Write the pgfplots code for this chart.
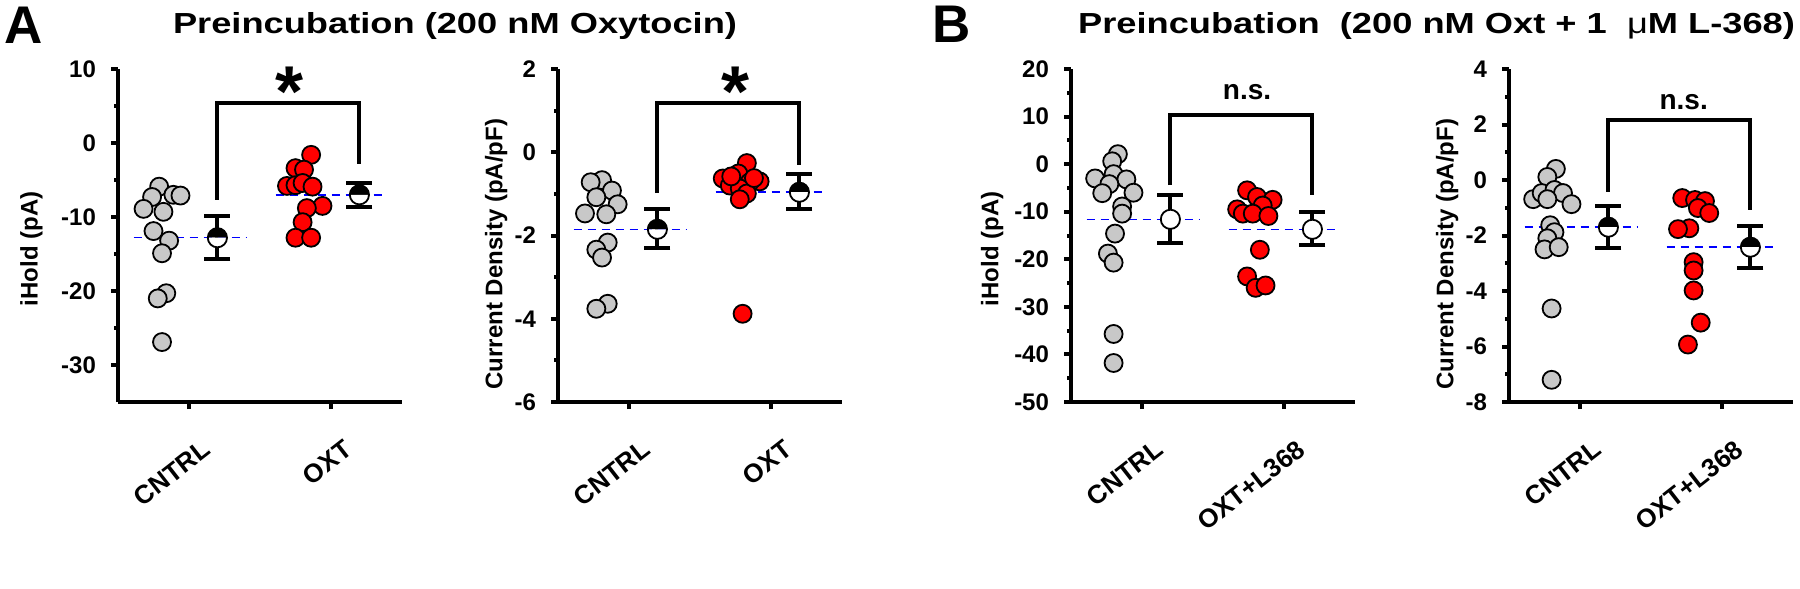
\documentclass[border=0pt]{standalone}
\usepackage{fontspec}
\setmainfont{Liberation Sans}
\usepackage{pgfplots}
\pgfplotsset{compat=1.18}
\usetikzlibrary{plotmarks}
\definecolor{ptgray}{RGB}{200,200,200}
\definecolor{ptred}{RGB}{255,0,0}
\definecolor{meanblue}{RGB}{0,0,255}
\newcommand{\lab}[1]{\fontsize{12}{14}\selectfont\bfseries #1}

\pgfplotsset{
  panel/.style={scale only axis, width=142pt, height=166.5pt,
    xmin=0.5, xmax=2.5, xtick={1,2}, clip=false,
    axis x line*=bottom, axis y line*=left,
    axis line style={-, line width=2pt},
    tick style={line width=2pt, black}, tick align=outside,
    major tick length=3.5pt, minor tick length=1.8pt, minor y tick num=1,
    /pgf/number format/assume math mode=true,
    yticklabel style={font=\fontsize{12}{14}\selectfont\bfseries, xshift=-4pt},
    xticklabel style={font=\fontsize{13}{15}\selectfont\bfseries, rotate=38, anchor=east,
      xshift=-1pt, yshift=-20pt},
    every axis y label/.style={rotate=90, anchor=center},
    anchor=south west},
  gray pts/.style={only marks, mark=*, mark size=4.5pt,
    mark options={fill=ptgray, draw=black, line width=0.9pt}},
  red pts/.style={only marks, mark=*, mark size=4.5pt,
    mark options={fill=ptred, draw=black, line width=0.9pt}},
  mean pt/.style={only marks, mark=halfcircle*, mark size=4.8pt,
    mark options={fill=black, draw=black, line width=0.9pt},
    error bars/y dir=both, error bars/y explicit,
    error bars/error bar style={line width=2pt, black},
    error bars/error mark options={rotate=90, mark size=6.5pt, line width=2pt, black}},
  open mean/.style={mean pt, mark=*, mark options={fill=white, draw=black, line width=0.9pt}},
  bracket/.style={no marks, line width=2pt, black, line join=miter},
  meanline/.style={no marks, meanblue, line width=0.75pt, dash pattern=on 4pt off 3pt},
}

\begin{document}
\begin{tikzpicture}
\useasboundingbox (0,0) rectangle (900pt,-294.5pt);

% panel A, iHold
\begin{axis}[panel, at={(59pt,-201pt)}, ymin=-35, ymax=10, ytick={-30,-20,...,10},
  xticklabels={CNTRL,OXT}, ylabel={\lab{iHold (pA)}},
  ylabel style={at={(axis description cs:-0.305,0.46)}}]
\addplot[gray pts] coordinates {(0.79,-5.9) (0.74,-7.3) (0.89,-7.0) (0.94,-7.1) (0.68,-8.9) (0.82,-9.3)
  (0.75,-11.9) (0.86,-13.2) (0.81,-14.9) (0.84,-20.3) (0.78,-21.0) (0.81,-26.9)};
\addplot[red pts] coordinates {(1.86,-1.6) (1.75,-3.4) (1.81,-3.6) (1.69,-5.8) (1.75,-5.7) (1.80,-5.4)
  (1.87,-5.9) (1.94,-8.5) (1.83,-8.8) (1.80,-10.7) (1.75,-12.8) (1.86,-12.8)};
\addplot[mean pt] coordinates {(1.2,-12.8) += (0,2.9) -= (0,2.9) (2.2,-7.0) += (0,1.6) -= (0,1.6)};
\addplot[bracket] coordinates {(1.2,-7.7) (1.2,5.4) (2.2,5.4) (2.2,-2.8)};
\addplot[meanline] coordinates {(0.61,-12.8) (1.40,-12.8)};
\addplot[meanline] coordinates {(1.61,-7.0) (2.39,-7.0)};
\node[font=\fontsize{36}{38}\selectfont\bfseries] at (axis cs:1.71,6.9) {*};
\end{axis}

% panel A, current density
\begin{axis}[panel, at={(279pt,-201pt)}, ymin=-6, ymax=2, ytick={-6,-4,...,2},
  xticklabels={CNTRL,OXT}, ylabel={\lab{Current Density (pA/pF)}},
  ylabel style={at={(axis description cs:-0.218,0.444)}}]
\addplot[gray pts] coordinates {(0.81,-0.67) (0.73,-0.72) (0.88,-0.92) (0.77,-1.08) (0.92,-1.25) (0.69,-1.47)
  (0.84,-1.49) (0.85,-2.17) (0.77,-2.34) (0.81,-2.53) (0.85,-3.64) (0.77,-3.76)};
\addplot[red pts] coordinates {(1.83,-0.26) (1.66,-0.63) (1.77,-0.51) (1.92,-0.70) (1.85,-0.72) (1.71,-0.80)
  (1.78,-0.87) (1.83,-0.99) (1.78,-1.13) (1.80,-3.88) (1.72,-0.58) (1.88,-0.62)};
\addplot[mean pt] coordinates {(1.2,-1.85) += (0,0.48) -= (0,0.46) (2.2,-0.96) += (0,0.43) -= (0,0.41)};
\addplot[bracket] coordinates {(1.2,-0.98) (1.2,1.18) (2.2,1.18) (2.2,-0.3)};
\addplot[meanline] coordinates {(0.61,-1.85) (1.40,-1.85)};
\addplot[meanline] coordinates {(1.61,-0.96) (2.39,-0.96)};
\node[font=\fontsize{36}{38}\selectfont\bfseries] at (axis cs:1.75,1.46) {*};
\end{axis}

% panel B, iHold
\begin{axis}[panel, at={(535.5pt,-201pt)}, ymin=-50, ymax=20, ytick={-50,-40,...,20},
  xticklabels={CNTRL,OXT+L368}, ylabel={\lab{iHold (pA)}},
  ylabel style={at={(axis description cs:-0.278,0.46)}}]
\addplot[gray pts] coordinates {(0.83,2.1) (0.79,0.6) (0.67,-3.0) (0.80,-2.1) (0.89,-3.2) (0.77,-4.2)
  (0.72,-6.1) (0.94,-6.0) (0.86,-8.9) (0.86,-10.4) (0.81,-14.6) (0.76,-18.8) (0.80,-20.7)
  (0.80,-35.7) (0.80,-41.8)};
\addplot[red pts] coordinates {(1.74,-5.5) (1.81,-6.9) (1.92,-7.5) (1.85,-8.7) (1.67,-9.5) (1.71,-10.4)
  (1.78,-10.4) (1.89,-10.9) (1.83,-18.0) (1.74,-23.6) (1.80,-26.0) (1.87,-25.5)};
\addplot[open mean] coordinates {(1.2,-11.6) += (0,5.1) -= (0,4.9) (2.2,-13.7) += (0,3.6) -= (0,3.2)};
\addplot[bracket] coordinates {(1.2,-4.4) (1.2,10.4) (2.2,10.4) (2.2,-6.5)};
\addplot[meanline] coordinates {(0.61,-11.6) (1.40,-11.6)};
\addplot[meanline] coordinates {(1.61,-13.7) (2.39,-13.7)};
\node[font=\fontsize{14}{16}\selectfont\bfseries] at (axis cs:1.74,15.2) {n.s.};
\end{axis}

% panel B, current density
\begin{axis}[panel, at={(754.5pt,-201pt)}, ymin=-8, ymax=4, ytick={-8,-6,...,4},
  xticklabels={CNTRL,OXT+L368}, ylabel={\lab{Current Density (pA/pF)}},
  ylabel style={at={(axis description cs:-0.218,0.444)}}]
\addplot[gray pts] coordinates {(0.83,0.40) (0.77,0.11) (0.67,-0.69) (0.73,-0.47) (0.82,-0.36) (0.88,-0.47)
  (0.94,-0.87) (0.77,-0.69) (0.79,-1.63) (0.82,-1.88) (0.77,-2.10) (0.75,-2.50) (0.85,-2.42)
  (0.80,-4.63) (0.80,-7.20)};
\addplot[red pts] coordinates {(1.72,-0.65) (1.81,-0.72) (1.88,-0.76) (1.83,-1.01) (1.91,-1.19) (1.77,-1.74)
  (1.69,-1.77) (1.80,-2.96) (1.80,-3.26) (1.80,-3.98) (1.85,-5.14) (1.76,-5.93)};
\addplot[mean pt] coordinates {(1.2,-1.70) += (0,0.76) -= (0,0.76) (2.2,-2.42) += (0,0.76) -= (0,0.76)};
\addplot[bracket] coordinates {(1.2,-0.43) (1.2,2.17) (2.2,2.17) (2.2,-1.08)};
\addplot[meanline] coordinates {(0.61,-1.70) (1.40,-1.70)};
\addplot[meanline] coordinates {(1.61,-2.42) (2.39,-2.42)};
\node[font=\fontsize{14}{16}\selectfont\bfseries] at (axis cs:1.73,2.82) {n.s.};
\end{axis}

% panel letters and titles
\node[anchor=base, font=\fontsize{26.5}{30}\selectfont\bfseries] at (12pt,-21.5pt) {A};
\node[anchor=base, font=\fontsize{26.5}{30}\selectfont\bfseries] at (475.75pt,-21pt) {B};
\node[anchor=base, font=\fontsize{14.5}{16}\selectfont\bfseries] at (227.5pt,-16.5pt)
  {\scalebox{1.25}[1]{Preincubation (200 nM Oxytocin)}};
\node[anchor=base, font=\fontsize{14.5}{16}\selectfont\bfseries] at (718.25pt,-16.5pt)
  {\scalebox{1.25}[1]{Preincubation\ \ (200 nM Oxt + 1\ \ {\mdseries μ}M L-368)}};
\end{tikzpicture}
\end{document}
